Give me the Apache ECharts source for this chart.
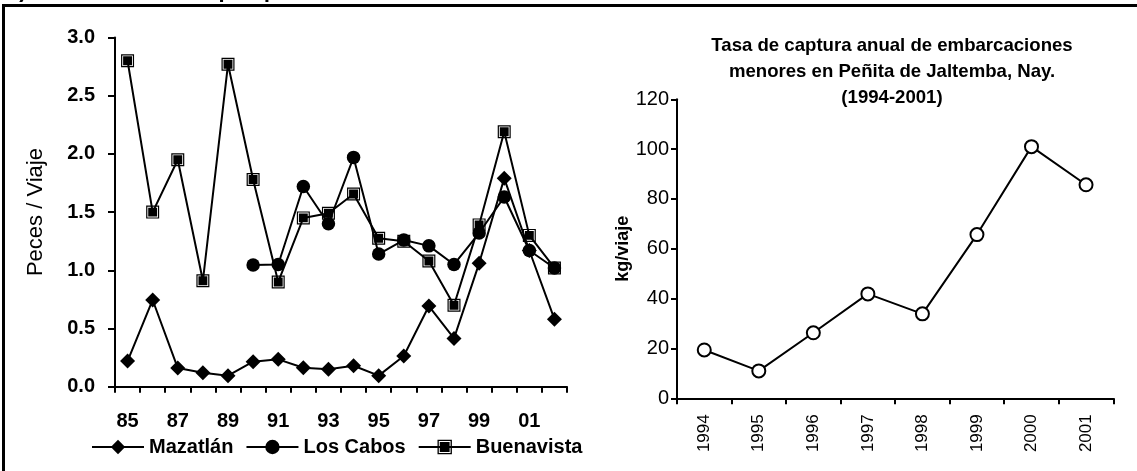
<!DOCTYPE html>
<html>
<head>
<meta charset="utf-8">
<script src="https://cdn.jsdelivr.net/npm/echarts@6/dist/echarts.min.js"></script>
<style>
html,body{margin:0;padding:0;background:#fff;}
#c{width:1137px;height:471px;}
</style>
</head>
<body>
<div id="c"></div>
<script>
// ---- data: left chart ----
const years = ['85','86','87','88','89','90','91','92','93','94','95','96','97','98','99','00','01','02'];
const mazatlan   = [0.22,0.745,0.16,0.12,0.095,0.215,0.235,0.163,0.15,0.18,0.095,0.264,0.693,0.415,1.06,1.79,1.17,0.58];
const losCabos   = [null,null,null,null,null,1.045,1.05,1.72,1.40,1.97,1.14,1.26,1.21,1.05,1.32,1.63,1.17,1.02];
const buenavista = [2.80,1.50,1.95,0.91,2.77,1.78,0.90,1.45,1.49,1.655,1.275,1.25,1.08,0.70,1.39,2.19,1.30,1.02];
const seriesNames = ['Mazatlán','Los Cabos','Buenavista'];
// ---- data: right chart ----
const rYears = ['1994','1995','1996','1997','1998','1999','2000','2001'];
const kgViaje = [19.4,11.0,26.3,41.9,33.9,65.7,101.0,85.7];
const rightTitle = 'Tasa de captura anual de embarcaciones\nmenores en Peñita de Jaltemba, Nay.\n(1994-2001)';
const pageTitle = '2) Indicadores de la pesquería.';

const FONT = 'Liberation Sans, Arial, sans-serif';
const squarePath = 'path://M0,0H12V12H0Z M1.1,1.1V10.9H10.9V1.1Z M1.9,1.9H10.1V10.1H1.9Z';

const chart = echarts.init(document.getElementById('c'), null, {renderer:'canvas'});
const axisLine = {show:true, lineStyle:{color:'#000', width:2}};
chart.setOption({
  animation:false,
  backgroundColor:'#fff',
  textStyle:{fontFamily:FONT, color:'#000'},
  title:{
    text:rightTitle, left:887, top:28, textAlign:'center',
    textStyle:{fontFamily:FONT, fontSize:18.6, fontWeight:'bold', color:'#000', lineHeight:26}
  },
  legend:{
    left:86, top:432, itemWidth:52, itemHeight:18, itemGap:12,
    data:seriesNames,
    textStyle:{fontFamily:FONT, fontSize:20, fontWeight:'bold', color:'#000'}
  },
  graphic:[
    {type:'line', shape:{x1:2, y1:5.5, x2:1137, y2:5.5}, style:{stroke:'#000', lineWidth:3}},
    {type:'line', shape:{x1:3.5, y1:4, x2:3.5, y2:471}, style:{stroke:'#000', lineWidth:3}},
    {type:'text', left:7, top:-20, style:{text:pageTitle, font:'bold 22px '+FONT, fill:'#000'}}
  ],
  grid:[
    {left:115, top:37.5, width:452, height:349.2},
    {left:677, top:99.3, width:436.3, height:299}
  ],
  xAxis:[
    {type:'category', gridIndex:0, data:years, boundaryGap:true,
     axisLine:axisLine, axisTick:{show:true, interval:0, length:6, lineStyle:{color:'#000', width:2}},
     axisLabel:{interval:1, margin:25, fontSize:20, fontWeight:'bold', color:'#000', fontFamily:FONT},
     splitLine:{show:false}},
    {type:'category', gridIndex:1, data:rYears, boundaryGap:true,
     axisLine:axisLine, axisTick:{show:true, interval:0, length:6, lineStyle:{color:'#000', width:2}},
     axisLabel:{interval:0, rotate:90, margin:16, fontSize:17, color:'#000', fontFamily:FONT},
     splitLine:{show:false}}
  ],
  yAxis:[
    {type:'value', gridIndex:0, min:0, max:3, interval:0.5,
     name:'Peces / Viaje', nameLocation:'middle', nameGap:68, nameRotate:90,
     nameTextStyle:{fontSize:22, color:'#000', fontFamily:FONT},
     axisLine:axisLine, axisTick:{show:true, length:7, lineStyle:{color:'#000', width:2}},
     axisLabel:{margin:20, fontSize:20, fontWeight:'bold', color:'#000', fontFamily:FONT,
       formatter:v=>v.toFixed(1)},
     splitLine:{show:false}},
    {type:'value', gridIndex:1, min:0, max:120, interval:20,
     name:'kg/viaje', nameLocation:'middle', nameGap:36, nameRotate:90,
     nameTextStyle:{fontSize:18, fontWeight:'bold', color:'#000', fontFamily:FONT},
     axisLine:axisLine, axisTick:{show:true, length:6, lineStyle:{color:'#000', width:2}},
     axisLabel:{margin:8, fontSize:20, color:'#000', fontFamily:FONT},
     splitLine:{show:false}}
  ],
  series:[
    {name:seriesNames[0], type:'line', xAxisIndex:0, yAxisIndex:0, data:mazatlan,
     symbol:'diamond', symbolSize:15, lineStyle:{color:'#000', width:2},
     itemStyle:{color:'#000'}},
    {name:seriesNames[1], type:'line', xAxisIndex:0, yAxisIndex:0, data:losCabos,
     symbol:'circle', symbolSize:13.5, lineStyle:{color:'#000', width:2},
     itemStyle:{color:'#000'}},
    {name:seriesNames[2], type:'line', xAxisIndex:0, yAxisIndex:0, data:buenavista,
     symbol:squarePath, symbolSize:13, lineStyle:{color:'#000', width:2},
     itemStyle:{color:'#000'}},
    {name:'kg/viaje', type:'line', xAxisIndex:1, yAxisIndex:1, data:kgViaje,
     symbol:'circle', symbolSize:13, lineStyle:{color:'#000', width:2},
     itemStyle:{color:'#fff', borderColor:'#000', borderWidth:2}}
  ]
});
</script>
</body>
</html>
